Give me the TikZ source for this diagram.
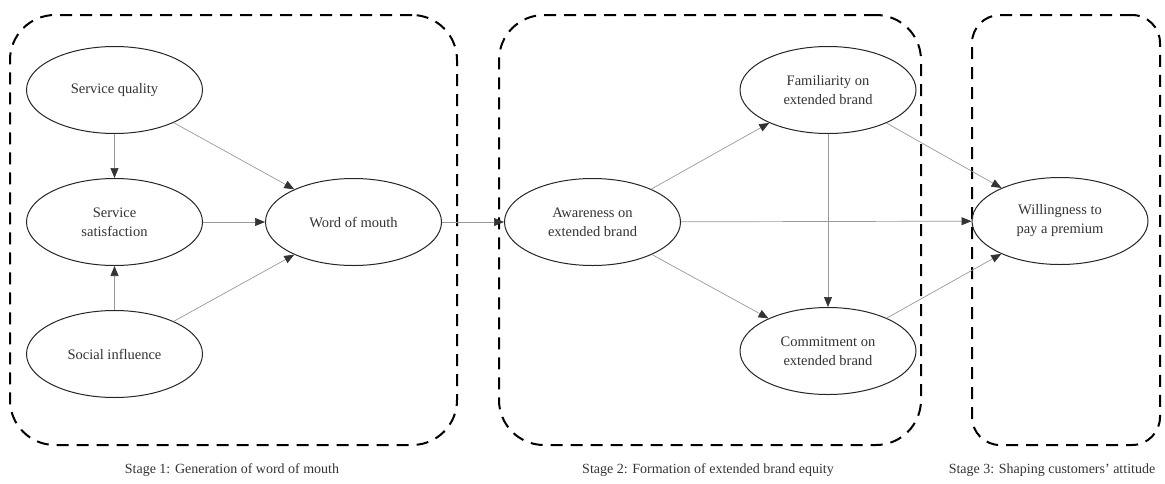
\documentclass[tikz,border=0pt]{standalone}
\usepackage{fontspec}
\setmainfont{Liberation Serif}
\usepackage{xcolor}
\usepackage{tikz}
\usetikzlibrary{shapes.geometric, arrows.meta, positioning}
\definecolor{inkgray}{HTML}{333333}
\definecolor{linkgray}{HTML}{999999}
\tikzstyle{construct}  = [ellipse, draw=black!85, line width=1pt, text=inkgray,
                          minimum width=176pt, minimum height=87pt, inner sep=0pt,
                          align=center, font=\fontsize{14.5}{19}\selectfont]
\tikzstyle{stagebox}   = [rectangle, draw=black, line width=2pt, inner sep=0pt,
                          dash pattern=on 12pt off 8pt, rounded corners=45pt]
\tikzstyle{stagelabel} = [text=inkgray, inner sep=0pt, font=\fontsize{14}{16}\selectfont]
\tikzstyle{link}       = [-{Triangle[length=10pt, width=8pt, color=black!80]},
                          draw=linkgray, line width=0.7pt]

\begin{document}
\begin{tikzpicture}[x=1pt, y=-1pt, node distance=44pt and 62pt]
  \useasboundingbox (0,0) rectangle (1165,483);

  \node[stagebox, minimum width=447pt, minimum height=430pt] (box1) at (233.5,230) {};
  \node[stagebox, minimum width=422pt, minimum height=430pt] (box2) at (710,230) {};
  \node[stagebox, minimum width=188pt, minimum height=430pt, rounded corners=28pt]
    (box3) at (1066,230) {};

  \node[construct] (sq) at (114.5,90) {Service quality};
  \node[construct, below=of sq] (ss) {Service\\satisfaction};
  \node[construct, below=of ss] (si) {Social influence};
  \node[construct, right=of ss] (wom) {Word of mouth};
  \node[construct, right=of wom] (aw) {Awareness on\\extended brand};
  \node[construct] (fam) at (828,90) {Familiarity on\\extended brand};
  \node[construct, below=173pt of fam] (com) {Commitment on\\extended brand};
  \node[construct] (wil) at (1060,221) {Willingness to\\pay a premium};

  \node[stagelabel] (lab1) at (232,470) {Stage 1: Generation of word of mouth};
  \node[stagelabel] (lab2) at (708,470) {Stage 2: Formation of extended brand equity};
  \node[stagelabel] (lab3) at (1052,470) {Stage 3: Shaping customers' attitude};

  \draw[link] (sq) -- (ss);
  \draw[link] (sq) -- (wom);
  \draw[link] (ss) -- (wom);
  \draw[link] (si) -- (ss);
  \draw[link] (si) -- (wom);
  \draw[link] (wom) -- (aw);

  \draw[link] (aw) -- (fam);
  \draw[link] (aw) -- (com);
  \draw[link] (aw) -- (wil);
  \draw[link] (fam) -- (com);
  \draw[link] (fam) -- (wil);
  \draw[link] (com) -- (wil);
\end{tikzpicture}
\end{document}
